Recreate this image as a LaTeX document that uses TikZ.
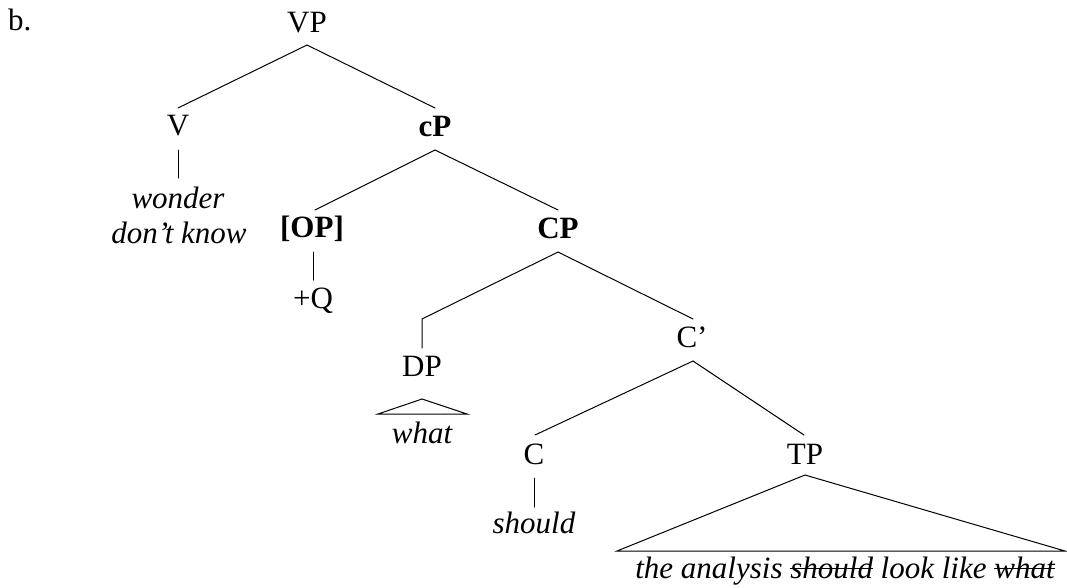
\documentclass[tikz,border=0pt]{standalone}
\usepackage{fontspec}
\setmainfont{Liberation Serif}
\newcommand{\strk}[1]{\setbox0\hbox{#1}\rlap{\raisebox{0.3em}{\rule{\wd0}{1.1pt}}}\box0\relax}
\begin{document}
\begin{tikzpicture}[x=1pt,y=-1pt,
  lab/.style={anchor=base,inner sep=0pt,font=\fontsize{31}{35}\selectfont},
  leaf/.style={lab,font=\fontsize{31}{35}\selectfont\itshape,align=center},
  edge/.style={line width=1pt,line cap=round,line join=miter}]
\useasboundingbox (0,0) rectangle (1067,587);
% labels
\node[lab,anchor=base west] (ex) at (8,30) {b.};
\node[lab] (VP) at (307,32) {VP};
\node[lab] (V) at (178,135) {V};
\node[lab] (cP) at (435,136) {\textbf{cP}};
\node[leaf] (wonder) at (178,208) {wonder};
\node[leaf] (dontknow) at (179,243) {don’t know};
\node[lab] (OP) at (312,237) {\textbf{[OP]}};
\node[lab] (CP) at (558,238) {\textbf{CP}};
\node[lab] (Q) at (313,308) {+Q};
\node[lab] (DP) at (422,376) {DP};
\node[lab] (Cbar) at (692,347) {C’};
\node[leaf] (what) at (422,443) {what};
\node[lab] (C) at (534,464) {C};
\node[lab] (TP) at (805,464) {TP};
\node[leaf] (should) at (534,533) {should};
\node[leaf] (tpleaf) at (845,578) {the analysis \strk{should} look like \strk{what}};
% branches
\draw[edge] ([yshift=-13pt]VP.base) -- ([yshift=27pt]V.base);
\draw[edge] ([yshift=-13pt]VP.base) -- ([yshift=28pt]cP.base);
\draw[edge] ([yshift=-15pt]V.base) -- ([yshift=30pt]wonder.base);
\draw[edge] ([yshift=-14pt]cP.base) -- ([yshift=27pt,xshift=3pt]OP.base);
\draw[edge] ([yshift=-14pt]cP.base) -- ([yshift=28pt]CP.base);
\draw[edge] ([yshift=-15pt,xshift=1pt]OP.base) -- ([yshift=28pt]Q.base);
\coordinate (DPbend) at ([yshift=57pt]DP.base);
\draw[edge] ([yshift=-14pt]CP.base) -- (DPbend) -- ([yshift=28pt]DP.base);
\draw[edge] ([yshift=-14pt]CP.base) -- ([yshift=28pt,xshift=1pt]Cbar.base);
\draw[edge] ([yshift=-14pt,xshift=1pt]Cbar.base) -- ([yshift=29pt,xshift=1pt]C.base);
\draw[edge] ([yshift=-14pt,xshift=1pt]Cbar.base) -- ([yshift=29pt,xshift=-1pt]TP.base);
\draw[edge] ([yshift=-14pt]C.base) -- ([yshift=26pt]should.base);
% triangles
\draw[edge] ([yshift=-23pt]DP.base) -- ([yshift=29pt,xshift=-44pt]what.base) -- ([yshift=29pt,xshift=45pt]what.base) -- cycle;
\draw[edge] ([yshift=-11pt]TP.base) -- ([yshift=27pt,xshift=-228pt]tpleaf.base) -- ([yshift=27pt,xshift=220pt]tpleaf.base) -- cycle;
\end{tikzpicture}
\end{document}
